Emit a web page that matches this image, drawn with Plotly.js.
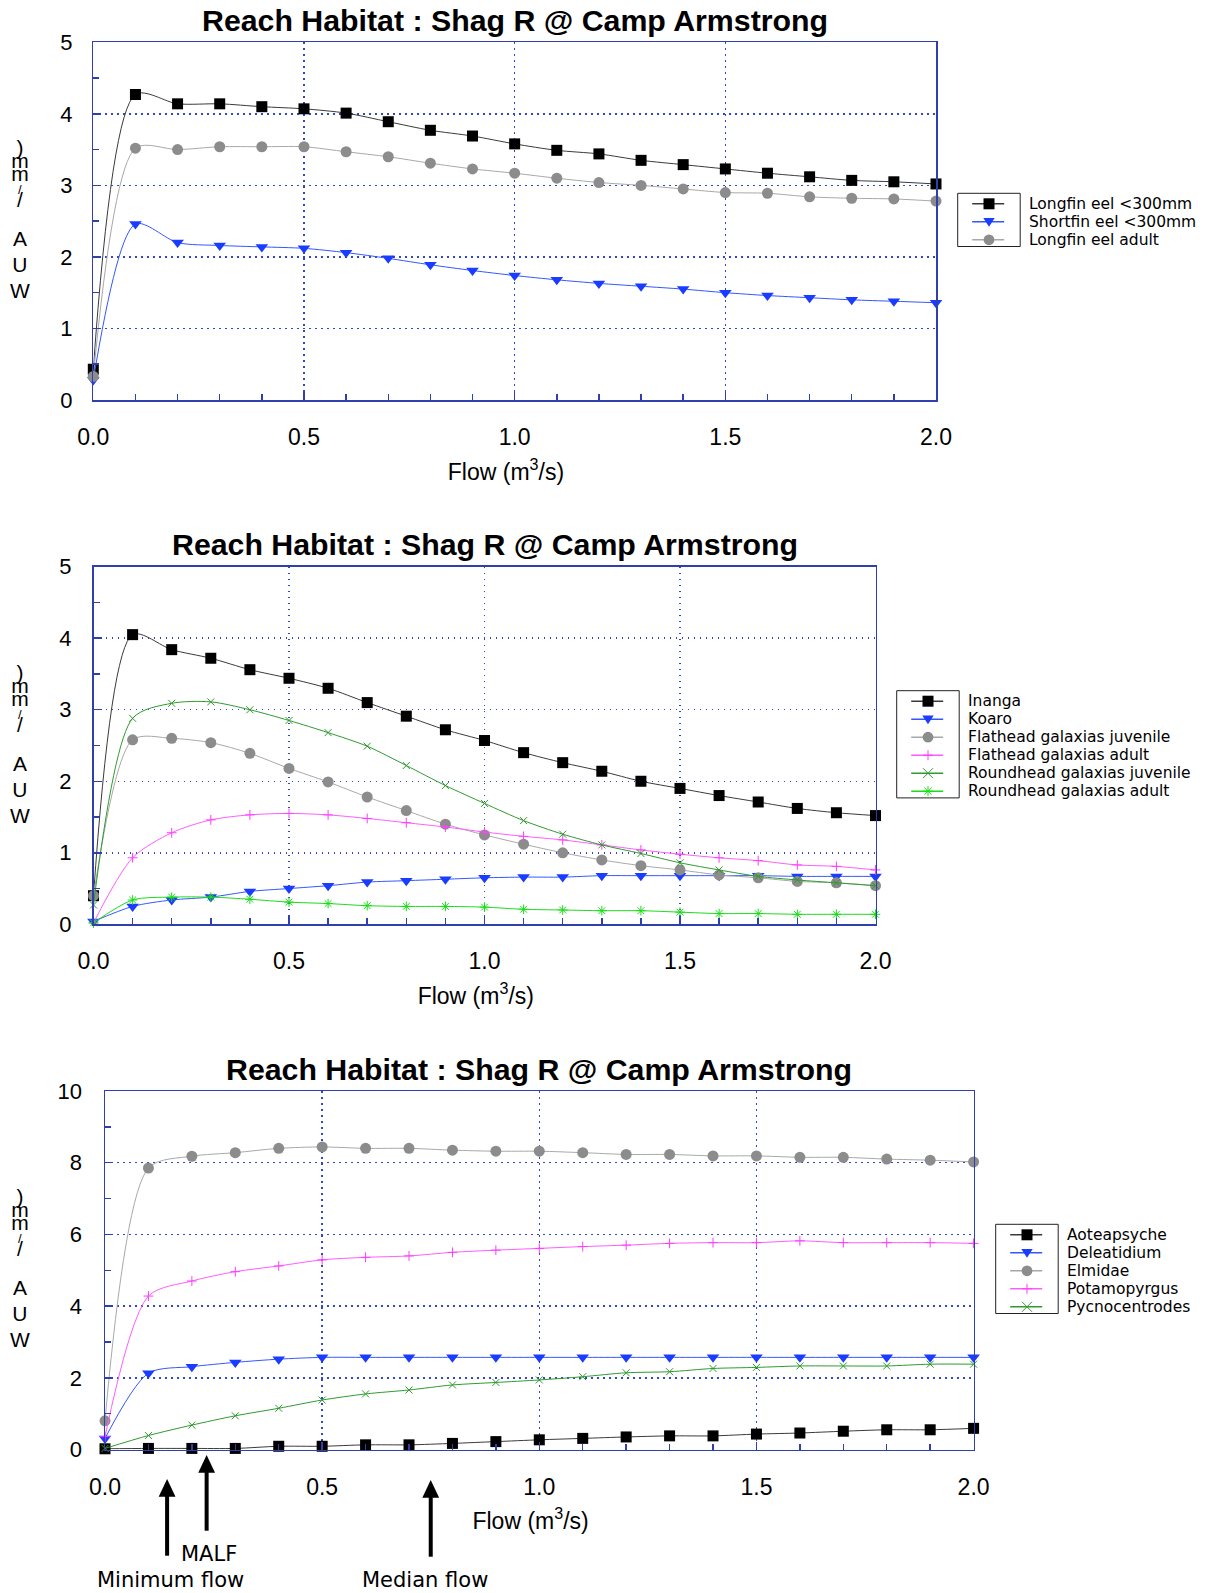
<!DOCTYPE html>
<html><head><meta charset="utf-8">
<script src="https://cdn.plot.ly/plotly-3.0.1.min.js"></script>
<style>html,body{margin:0;padding:0;background:#fff;}#chart{width:1209px;height:1593px;}</style>
</head><body><div id="chart"></div>
<script>
// ---------------- DATA ----------------
const flow = [0.0,0.1,0.2,0.3,0.4,0.5,0.6,0.7,0.8,0.9,1.0,1.1,1.2,1.3,1.4,1.5,1.6,1.7,1.8,1.9,2.0];
const xTickLabels = ['0.0','0.5','1.0','1.5','2.0'];
const chartTitle = 'Reach Habitat : Shag R @ Camp Armstrong';
const xTitle = 'Flow (m<sup>3</sup>/s)';
// y title as drawn in the original: characters stacked from top to bottom ('' = blank line)
const yTitleLines = [')','m','m','/','/','','','A','','U','','W'];

// Chart 1 - eels
const eelNames = ['Longfin eel <300mm','Shortfin eel <300mm','Longfin eel adult'];
const longfinEelSmall = [0.43,4.27,4.14,4.14,4.10,4.07,4.01,3.89,3.77,3.69,3.58,3.49,3.44,3.35,3.29,3.23,3.17,3.12,3.07,3.05,3.02];
const shortfinEelSmall = [0.28,2.46,2.20,2.16,2.14,2.12,2.06,1.98,1.89,1.81,1.74,1.68,1.63,1.59,1.55,1.50,1.46,1.43,1.40,1.38,1.36];
const longfinEelAdult = [0.33,3.52,3.50,3.54,3.54,3.54,3.47,3.40,3.31,3.23,3.17,3.10,3.04,3.00,2.95,2.90,2.89,2.84,2.82,2.81,2.78];

// Chart 2 - galaxiids
const fishNames = ['Inanga','Koaro','Flathead galaxias juvenile','Flathead galaxias adult','Roundhead galaxias juvenile','Roundhead galaxias adult'];
const inanga = [0.40,4.05,3.84,3.72,3.56,3.44,3.30,3.10,2.91,2.72,2.57,2.40,2.26,2.14,2.00,1.90,1.80,1.71,1.62,1.56,1.52];
const koaro = [0.04,0.25,0.34,0.38,0.46,0.50,0.54,0.59,0.61,0.63,0.65,0.66,0.66,0.68,0.68,0.68,0.68,0.68,0.67,0.67,0.67];
const flatheadJuvenile = [0.40,2.58,2.60,2.54,2.39,2.18,1.99,1.78,1.59,1.40,1.25,1.12,1.00,0.90,0.82,0.76,0.69,0.65,0.60,0.58,0.54];
const flatheadAdult = [0.02,0.93,1.28,1.46,1.53,1.55,1.53,1.48,1.42,1.36,1.29,1.23,1.18,1.11,1.04,0.98,0.93,0.89,0.83,0.81,0.76];
const roundheadJuvenile = [0.27,2.88,3.09,3.11,3.00,2.85,2.68,2.49,2.22,1.94,1.69,1.45,1.26,1.11,0.99,0.86,0.76,0.67,0.62,0.58,0.54];
const roundheadAdult = [0.02,0.34,0.38,0.38,0.35,0.31,0.29,0.26,0.25,0.25,0.24,0.21,0.20,0.19,0.19,0.17,0.15,0.15,0.14,0.14,0.14];

// Chart 3 - invertebrates
const invertNames = ['Aoteapsyche','Deleatidium','Elmidae','Potamopyrgus','Pycnocentrodes'];
const aoteapsyche = [0.02,0.03,0.03,0.03,0.09,0.09,0.13,0.13,0.17,0.22,0.27,0.31,0.35,0.38,0.38,0.43,0.46,0.51,0.55,0.55,0.59];
const deleatidium = [0.31,2.13,2.31,2.43,2.52,2.57,2.57,2.57,2.57,2.57,2.57,2.57,2.57,2.57,2.57,2.57,2.57,2.57,2.57,2.57,2.57];
const elmidae = [0.80,7.85,8.18,8.28,8.40,8.44,8.40,8.40,8.35,8.32,8.32,8.28,8.23,8.23,8.19,8.19,8.15,8.15,8.10,8.07,8.02];
const potamopyrgus = [0.36,4.28,4.70,4.96,5.12,5.29,5.36,5.40,5.50,5.56,5.61,5.66,5.70,5.75,5.77,5.77,5.82,5.77,5.77,5.77,5.75];
const pycnocentrodes = [0.03,0.39,0.68,0.94,1.15,1.38,1.55,1.66,1.80,1.87,1.94,2.03,2.14,2.17,2.26,2.29,2.33,2.33,2.33,2.38,2.38];

// Flow markers (m3/s)
const flowMarkerNames = ['Minimum flow','MALF','Median flow'];
const flowMarkerValues = [0.143, 0.234, 0.75];

// ---------------- STYLE ----------------
const W = 1209, H = 1593;
const fx = x => x / W, fy = y => 1 - y / H;
const AX = '#2f3fae', GRID = '#3344c4';
const ARIAL = 'Liberation Sans, Arial, sans-serif';
const WIDE = 'DejaVu Sans, Verdana, sans-serif';

const ST = {
  black:  {line:'#3a3a3a', mk:'#000000', sym:'square', size:11, open:false},
  blue:   {line:'#3357ff', mk:'#1a3cff', sym:'triangle-down', size:11, open:false},
  gray:   {line:'#a8a8a8', mk:'#8c8c8c', sym:'circle', size:11, open:false},
  pink:   {line:'#ff5cff', mk:'#ff3cff', sym:'cross-thin-open', size:7, open:true},
  dgreen: {line:'#2f9a2f', mk:'#2f9a2f', sym:'x-thin-open', size:7, open:true},
  bgreen: {line:'#19dd19', mk:'#19dd19', sym:'asterisk-open', size:8, open:true}
};

const plots = [
  {left:93.3, right:936, top:42.3, bottom:400, ymax:5, dy:1, ymin:0.5, ylabGap:15, titleY:20.5, legend:{left:957.7, top:193.3}},
  {left:93.5, right:875.5, top:566.7, bottom:924.3, ymax:5, dy:1, ymin:0.5, ylabGap:16, titleY:544, legend:{left:896.7, top:690.7}},
  {left:105, right:973.6, top:1091, bottom:1449.5, ymax:10, dy:2, ymin:1, ylabGap:17, titleY:1069, legend:{left:995.7, top:1224.3}}
];

const groups = [
  {names:eelNames, series:[longfinEelSmall, shortfinEelSmall, longfinEelAdult], styles:['black','blue','gray']},
  {names:fishNames, series:[inanga, koaro, flatheadJuvenile, flatheadAdult, roundheadJuvenile, roundheadAdult], styles:['black','blue','gray','pink','dgreen','bgreen']},
  {names:invertNames, series:[aoteapsyche, deleatidium, elmidae, potamopyrgus, pycnocentrodes], styles:['black','blue','gray','pink','dgreen']}
];

const traces = [], shapes = [], annotations = [];
const layout = {width:W, height:H, margin:{l:0,r:0,t:0,b:0}, paper_bgcolor:'#fff', plot_bgcolor:'#fff', showlegend:false, shapes, annotations};

function symbolShape(kind, cx, cy, color) {
  const P = (x,y) => fx(x).toFixed(5)+','+fy(y).toFixed(5);
  const s = ST[kind];
  if (s.sym === 'square') {
    return {type:'rect', xref:'paper', yref:'paper', x0:fx(cx-5.5), x1:fx(cx+5.5), y0:fy(cy-5.5), y1:fy(cy+5.5), fillcolor:color, line:{width:0}};
  }
  if (s.sym === 'circle') {
    return {type:'circle', xref:'paper', yref:'paper', x0:fx(cx-5.4), x1:fx(cx+5.4), y0:fy(cy-5.4), y1:fy(cy+5.4), fillcolor:color, line:{width:0}};
  }
  let path;
  if (s.sym === 'triangle-down') path = 'M'+P(cx-5.7,cy-3.8)+'L'+P(cx+5.7,cy-3.8)+'L'+P(cx,cy+5)+'Z';
  if (s.sym === 'cross-thin-open') path = 'M'+P(cx-5,cy)+'L'+P(cx+5,cy)+'M'+P(cx,cy-5)+'L'+P(cx,cy+5);
  if (s.sym === 'x-thin-open') path = 'M'+P(cx-5,cy-5)+'L'+P(cx+5,cy+5)+'M'+P(cx-5,cy+5)+'L'+P(cx+5,cy-5);
  if (s.sym === 'asterisk-open') path = 'M'+P(cx-5,cy)+'L'+P(cx+5,cy)+'M'+P(cx,cy-5)+'L'+P(cx,cy+5)+'M'+P(cx-3.6,cy-3.6)+'L'+P(cx+3.6,cy+3.6)+'M'+P(cx-3.6,cy+3.6)+'L'+P(cx+3.6,cy-3.6);
  const filled = s.sym === 'triangle-down';
  return {type:'path', xref:'paper', yref:'paper', path, fillcolor: filled ? color : 'rgba(0,0,0,0)', line:{color, width: filled ? 0 : 1}};
}

// stacked y-title: one text, base size gives a 13 px line step, glyphs drawn at 21 px
const yTitleText = yTitleLines.map((c, j) => {
  if (c === '') return '&nbsp;';
  const size = (j === 3) ? 13 : 21;
  return '<span style="font-size:' + size + 'px">' + c + '</span>';
}).join('<br>');

plots.forEach((p, k) => {
  const sfx = k === 0 ? '' : String(k+1);
  const g = groups[k];
  layout['xaxis'+sfx] = {
    domain:[fx(p.left), fx(p.right)], anchor:'y'+sfx, range:[0,2], tickmode:'array',
    tickvals:[0,0.5,1,1.5,2], ticktext:xTickLabels,
    // trailing non-breaking spaces nudge the centred title slightly left, as in the original
    title:{text:xTitle + '&nbsp;&nbsp;&#8201;', font:{family:ARIAL, size:23, color:'#000'}},
    ticks:'inside', ticklen:8, tickwidth:1.5, tickcolor:AX,
    showline:true, linecolor:AX, linewidth:1.5, mirror:true,
    showgrid:true, gridcolor:GRID, gridwidth:1.5, griddash:'1.5px,4.5px', zeroline:false,
    tickfont:{family:ARIAL, size:23, color:'#000'}, ticklabelstandoff:16,
    minor:{tickvals:flow, ticks:'inside', ticklen:6, tickwidth:1.5, tickcolor:AX, showgrid:false},
    fixedrange:true
  };
  const yt = []; for (let v = 0; v <= p.ymax + 1e-9; v += p.dy) yt.push(v);
  const ym = []; for (let v = 0; v <= p.ymax + 1e-9; v += p.ymin) ym.push(v);
  layout['yaxis'+sfx] = {
    domain:[fy(p.bottom), fy(p.top)], anchor:'x'+sfx, range:[0,p.ymax], tickmode:'array', tickvals:yt,
    ticks:'inside', ticklen:8, tickwidth:1.5, tickcolor:AX,
    showline:true, linecolor:AX, linewidth:1.5, mirror:true,
    showgrid:true, gridcolor:GRID, gridwidth:1.5, griddash:'1.5px,4.5px', zeroline:false,
    tickfont:{family:ARIAL, size:22, color:'#000'}, ticklabelstandoff:p.ylabGap,
    minor:{tickvals:ym, ticks:'inside', ticklen:6, tickwidth:1.5, tickcolor:AX, showgrid:false},
    fixedrange:true
  };
  g.series.forEach((vals, i) => {
    const s = ST[g.styles[i]];
    traces.push({
      type:'scatter', mode:'lines+markers', name:g.names[i], x:flow, y:vals,
      xaxis:'x'+sfx, yaxis:'y'+sfx, cliponaxis:false,
      line:{color:s.line, width:1, shape:'spline', smoothing:0.8},
      marker:{symbol:s.sym, size:s.size, color:s.mk, line:{color:s.mk, width:s.open ? 1 : 0}}
    });
  });
  annotations.push({xref:'paper', yref:'paper', x:fx((p.left+p.right)/2), y:fy(p.titleY), xanchor:'center', yanchor:'middle',
    text:chartTitle, showarrow:false, font:{family:ARIAL, size:30.3, weight:'bold', color:'#000'}});
  annotations.push({xref:'paper', yref:'paper', x:fx(20), y:fy(p.top+177), xanchor:'center', yanchor:'middle', align:'center',
    text:yTitleText, showarrow:false, font:{family:ARIAL, size:10, color:'#000'}});
  const L = p.legend, n = g.names.length;
  shapes.push({type:'rect', xref:'paper', yref:'paper', x0:fx(L.left), x1:fx(L.left+62.5), y0:fy(L.top), y1:fy(L.top+10.5+(n-1)*18+6.7),
    line:{color:'#222', width:1}, fillcolor:'rgba(0,0,0,0)'});
  g.names.forEach((nm, i) => {
    const s = ST[g.styles[i]];
    const cy = L.top + 10.5 + i*18;
    shapes.push({type:'line', xref:'paper', yref:'paper', x0:fx(L.left+14.5), x1:fx(L.left+46.5), y0:fy(cy), y1:fy(cy), line:{color:s.line, width:1.5}});
    shapes.push(symbolShape(g.styles[i], L.left+31.3, cy, s.mk));
    annotations.push({xref:'paper', yref:'paper', x:fx(L.left+69.5), y:fy(cy), xanchor:'left', yanchor:'middle',
      text:nm, showarrow:false, font:{family:WIDE, size:15.5, color:'#000'}});
  });
});

// flow marker arrows under chart 3 (shaft + head), positioned by flow value on x3
const p3 = plots[2], pxPerFlow = (p3.right - p3.left) / 2;
const arrowTip = [1479, 1455, 1480], arrowTail = [1555.7, 1530.7, 1556.7];
const labelPos = [[170.5,1580],[209.3,1554],[425,1580]];
flowMarkerValues.forEach((v, i) => {
  const base = arrowTip[i] + 17.7, hw = 8.4 / pxPerFlow;
  shapes.push({type:'line', xref:'x3', yref:'paper', x0:v, x1:v, y0:fy(arrowTail[i]), y1:fy(base - 1), line:{color:'#000', width:4}});
  shapes.push({type:'path', xref:'x3', yref:'paper',
    path:'M' + (v-hw) + ',' + fy(base) + 'L' + (v+hw) + ',' + fy(base) + 'L' + v + ',' + fy(arrowTip[i]) + 'Z',
    fillcolor:'#000', line:{width:0}});
  annotations.push({xref:'paper', yref:'paper', x:fx(labelPos[i][0]), y:fy(labelPos[i][1]), xanchor:'center', yanchor:'middle',
    text:flowMarkerNames[i], showarrow:false, font:{family:WIDE, size:21, color:'#000'}});
});

Plotly.newPlot('chart', traces, layout, {staticPlot:true, displayModeBar:false});
</script>
</body></html>
